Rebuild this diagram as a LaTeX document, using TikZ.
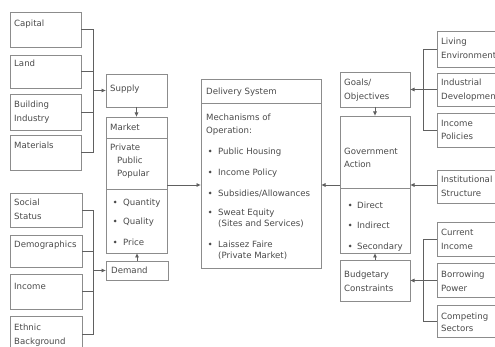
\documentclass[tikz,border=0pt]{standalone}
\usepackage{fontspec}
\setmainfont{DejaVu Sans}
\usetikzlibrary{arrows.meta}
\definecolor{boxgray}{HTML}{8C8C8C}
\definecolor{linkgray}{HTML}{606060}
\definecolor{txtgray}{HTML}{4A4A4A}
% box by its corners: name, x1, y1, x2, y2 (y grows downwards)
\newcommand\mybox[5]{\node[box, minimum width={#4pt-#2pt}, minimum height={#5pt-#3pt}] (#1) at (#2,#3) {};}
\newcommand\bulletdot[2]{\fill[txtgray] (#1,#2) circle (1.5);}
\begin{document}
\begin{tikzpicture}[x=1pt,y=-1pt,
  box/.style={draw=boxgray, line width=0.8pt, anchor=north west, inner sep=0pt, outer sep=0pt},
  txt/.style={anchor=base west, inner sep=0pt, text=txtgray, font=\fontsize{8.6}{10}\selectfont},
  link/.style={draw=linkgray, line width=0.95pt},
  arr/.style={link, -{Latex[length=4.5pt,width=4.2pt]}},
  sep/.style={draw=boxgray, line width=0.8pt}]
\clip (0,0) rectangle (495,347);
\fill[white] (0,0) rectangle (495,347);

% ---- supply side inputs
\mybox{capital}{10}{12}{81}{47}
\mybox{land}{10}{55}{81}{88}
\mybox{building}{10}{94}{81}{130}
\mybox{materials}{10}{135}{81}{170}
\node[txt] (t-capital) at (14,27) {Capital};
\node[txt] (t-land) at (14,67) {Land};
\node[txt] (t-build1) at (14,108) {Building};
\node[txt] (t-build2) at (14,122) {Industry};
\node[txt] (t-mat) at (14,149) {Materials};

% ---- demand side inputs
\mybox{social}{10}{193}{82}{227}
\mybox{demog}{10}{235}{82}{267}
\mybox{income}{10}{274}{82}{309}
\mybox{ethnic}{10}{316}{82}{352}
\node[txt] (t-soc1) at (14,206) {Social};
\node[txt] (t-soc2) at (14,220) {Status};
\node[txt] (t-dem) at (14,248) {Demographics};
\node[txt] (t-inc) at (14,290) {Income};
\node[txt] (t-eth1) at (14,330) {Ethnic};
\node[txt] (t-eth2) at (14,344) {Background};

% ---- market column
\mybox{supply}{106}{74}{167}{107}
\mybox{market}{106}{117}{167}{253}
\mybox{demand}{106}{261}{168}{280}
\draw[sep] (market.west |- 0,138) -- (market.east |- 0,138);
\draw[sep] (market.west |- 0,189) -- (market.east |- 0,189);
\node[txt] (t-supply) at (110,92) {Supply};
\node[txt] (t-market) at (110,131) {Market};
\node[txt] (t-priv) at (110,151) {Private};
\node[txt] (t-pub) at (117,164) {Public};
\node[txt] (t-pop) at (117,177) {Popular};
\bulletdot{115}{202}\node[txt] (t-qty) at (123,206) {Quantity};
\bulletdot{115}{221}\node[txt] (t-qual) at (123,225) {Quality};
\bulletdot{115}{242}\node[txt] (t-price) at (123,246) {Price};
\node[txt] (t-demand) at (111,273) {Demand};

% ---- delivery system
\mybox{delivery}{201}{79}{321}{268}
\draw[sep] (delivery.west |- 0,103) -- (delivery.east |- 0,103);
\node[txt] (t-deliv) at (206,95) {Delivery System};
\node[txt] (t-mech1) at (206,121) {Mechanisms of};
\node[txt] (t-mech2) at (206,134) {Operation:};
\bulletdot{210}{151}\node[txt] (t-m1) at (218,155) {Public Housing};
\bulletdot{210}{172}\node[txt] (t-m2) at (218,176) {Income Policy};
\bulletdot{210}{193}\node[txt] (t-m3) at (218,197) {Subsidies/Allowances};
\bulletdot{210}{212}\node[txt] (t-m4a) at (218,216) {Sweat Equity};
\node[txt] (t-m4b) at (218,227) {(Sites and Services)};
\bulletdot{210}{244}\node[txt] (t-m5a) at (218,248) {Laissez Faire};
\node[txt] (t-m5b) at (218,259) {(Private Market)};

% ---- government column
\mybox{goals}{340}{72}{410}{107}
\mybox{gov}{340}{116}{410}{253}
\mybox{budget}{340}{260}{410}{301}
\draw[sep] (gov.west |- 0,188) -- (gov.east |- 0,188);
\node[txt] (t-goal1) at (344,86) {Goals/};
\node[txt] (t-goal2) at (344,100) {Objectives};
\node[txt] (t-gov1) at (344,155) {Government};
\node[txt] (t-gov2) at (344,168) {Action};
\bulletdot{350}{205}\node[txt] (t-dir) at (357,209) {Direct};
\bulletdot{350}{225}\node[txt] (t-ind) at (357,229) {Indirect};
\bulletdot{350}{246}\node[txt] (t-sec) at (357,250) {Secondary};
\node[txt] (t-bud1) at (344,278) {Budgetary};
\node[txt] (t-bud2) at (344,291) {Constraints};

% ---- government inputs (running off the right edge)
\mybox{living}{437}{31}{530}{67}
\mybox{industrial}{437}{73}{530}{106}
\mybox{incpol}{437}{113}{530}{147}
\mybox{inst}{437}{170}{530}{203}
\mybox{current}{437}{222}{530}{256}
\mybox{borrow}{437}{263}{530}{297}
\mybox{compete}{437}{305}{530}{337}
\node[txt] (t-liv1) at (441,45) {Living};
\node[txt] (t-liv2) at (441,59) {Environment};
\node[txt] (t-indu1) at (441,86) {Industrial};
\node[txt] (t-indu2) at (441,100) {Development};
\node[txt] (t-ip1) at (441,127) {Income};
\node[txt] (t-ip2) at (441,140) {Policies};
\node[txt] (t-inst1) at (441,183) {Institutional};
\node[txt] (t-inst2) at (441,197) {Structure};
\node[txt] (t-cur1) at (441,236) {Current};
\node[txt] (t-cur2) at (441,250) {Income};
\node[txt] (t-bor1) at (441,278) {Borrowing};
\node[txt] (t-bor2) at (441,291) {Power};
\node[txt] (t-com1) at (441,319) {Competing};
\node[txt] (t-com2) at (441,331) {Sectors};

% ---- bracket connectors
\coordinate (lb) at (93,0);
\coordinate (rb) at (423.5,0);
\draw[link] (capital.east) -- (capital.east -| lb) -- (materials.east -| lb) -- (materials.east);
\draw[link] (land.east) -- (land.east -| lb);
\draw[link] (building.east) -- (building.east -| lb);
\draw[arr] (supply.west -| lb) -- (supply.west);

\draw[link] (social.east) -- (social.east -| lb) -- (ethnic.east -| lb) -- (ethnic.east);
\draw[link] (demog.east) -- (demog.east -| lb);
\draw[link] (income.east) -- (income.east -| lb);
\draw[arr] (demand.west -| lb) -- (demand.west);

\draw[link] (living.west) -- (living.west -| rb) -- (incpol.west -| rb) -- (incpol.west);
\draw[link] (industrial.west) -- (industrial.west -| rb);
\draw[arr] (goals.east -| rb) -- (goals.east);

\draw[link] (current.west) -- (current.west -| rb) -- (compete.west -| rb) -- (compete.west);
\draw[link] (borrow.west) -- (borrow.west -| rb);
\draw[arr] (budget.east -| rb) -- (budget.east);

% ---- flows between the main blocks
\draw[arr] (supply.south) -- (market.north);
\draw[arr] (demand.north) -- (demand.north |- market.south);
\draw[arr] (goals.south) -- (gov.north);
\draw[arr] (budget.north) -- (gov.south);
\draw[arr] (market.east |- 0,185) -- (delivery.west |- 0,185);
\draw[arr] (gov.west |- 0,185) -- (delivery.east |- 0,185);
\draw[arr] (inst.west |- 0,185) -- (gov.east |- 0,185);
\end{tikzpicture}
\end{document}
